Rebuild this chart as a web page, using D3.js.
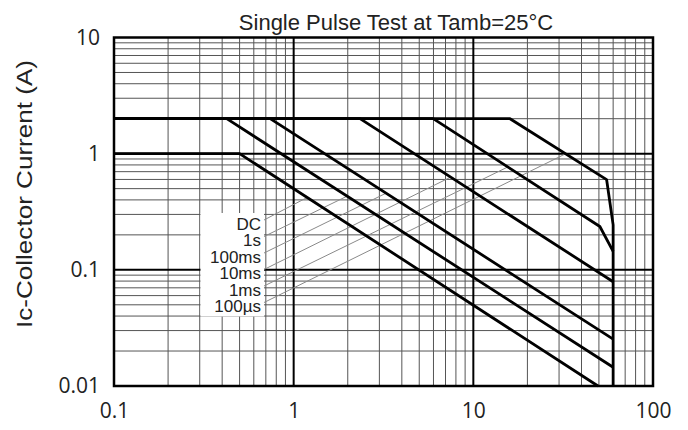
<!DOCTYPE html>
<html>
<head>
<meta charset="utf-8">
<script src="https://cdn.jsdelivr.net/npm/d3@7"></script>
<style>
  body { margin: 0; background: #fff; }
  svg { display: block; }
</style>
</head>
<body>
<svg id="chart"></svg>
<script>
// safe operating area curves, [Vce (V), Ic (A)]
const pulseLabels = ['DC', '1s', '100ms', '10ms', '1ms', '100\u00b5s'];
const curveDC = [[0.1, 1], [0.5, 1], [49.4, 0.01]];
const curve1s = [[0.1, 2], [0.424, 2], [60, 0.0145]];
const curve100ms = [[0.1, 2], [0.74, 2], [60, 0.0253]];
const curve10ms = [[0.1, 2], [2.34, 2], [60, 0.079]];
const curve1ms = [[0.1, 2], [5.98, 2], [50.6, 0.236], [60, 0.144]];
const curve100us = [[0.1, 2], [16, 2], [55.2, 0.597], [60, 0.244], [60, 0.01]];
const curves = [curveDC, curve1s, curve100ms, curve10ms, curve1ms, curve100us];
// where each label's leader line meets its curve
const leaderEnds = [[1.19, 0.42], [1.98, 0.43], [3.25, 0.455], [7.46, 0.627], [15.6, 0.77], [32.3, 0.99]];

const xTicks = [0.1, 1, 10, 100];
const xTickLabels = ['0.1', '1', '10', '100'];
const yTicks = [0.01, 0.1, 1, 10];
const yTickLabels = ['0.01', '0.1', '1', '10'];

const svgWidth = 688;
const svgHeight = 430;
const plot = { left: 114, right: 653, top: 37.5, bottom: 386 };

const svg = d3.select('#chart')
    .attr('width', svgWidth)
    .attr('height', svgHeight);

const x = d3.scaleLog().domain([0.1, 100]).range([plot.left, plot.right]);
const y = d3.scaleLog().domain([0.01, 10]).range([plot.bottom, plot.top]);

const isMajor = v => Math.abs(Math.log10(v) - Math.round(Math.log10(v))) < 1e-9;

// minor grid
const grid = svg.append('g');
grid.selectAll('.vx')
    .data(x.ticks().filter(v => !isMajor(v)))
    .enter().append('line')
    .attr('x1', d => x(d)).attr('x2', d => x(d))
    .attr('y1', plot.top).attr('y2', plot.bottom)
    .attr('stroke', '#555').attr('stroke-width', 1);
grid.selectAll('.hy')
    .data(y.ticks().filter(v => !isMajor(v)))
    .enter().append('line')
    .attr('x1', plot.left).attr('x2', plot.right)
    .attr('y1', d => y(d)).attr('y2', d => y(d))
    .attr('stroke', '#555').attr('stroke-width', 1);

// major grid
grid.selectAll('.vmaj')
    .data(xTicks.slice(1, -1))
    .enter().append('line')
    .attr('x1', d => x(d)).attr('x2', d => x(d))
    .attr('y1', plot.top).attr('y2', plot.bottom)
    .attr('stroke', '#000').attr('stroke-width', 2);
grid.selectAll('.hmaj')
    .data(yTicks.slice(1, -1))
    .enter().append('line')
    .attr('x1', plot.left).attr('x2', plot.right)
    .attr('y1', d => y(d)).attr('y2', d => y(d))
    .attr('stroke', '#000').attr('stroke-width', 2);

// white panel behind the legend labels
const box = { x: 200.5, y: 213, w: 63.5, h: 103.5 };
svg.append('rect')
    .attr('x', box.x).attr('y', box.y)
    .attr('width', box.w).attr('height', box.h)
    .attr('fill', '#fff');

// leader lines
const labelRight = 261;
const labelBase = 229.5;
const labelStep = 16.5;
svg.selectAll('.leader')
    .data(leaderEnds)
    .enter().append('line')
    .attr('x1', labelRight + 3)
    .attr('y1', (d, i) => labelBase + i * labelStep - 9.5)
    .attr('x2', d => x(d[0]))
    .attr('y2', d => y(d[1]))
    .attr('stroke', '#8a8a8a')
    .attr('stroke-width', 1);

svg.selectAll('.plabel')
    .data(pulseLabels)
    .enter().append('text')
    .attr('x', labelRight)
    .attr('y', (d, i) => labelBase + i * labelStep)
    .attr('text-anchor', 'end')
    .attr('font-family', 'Liberation Sans, Arial, sans-serif')
    .attr('font-size', '17px')
    .attr('fill', '#222')
    .text(d => d);

// SOA curves
const line = d3.line().x(d => x(d[0])).y(d => y(d[1]));
svg.selectAll('.curve')
    .data(curves)
    .enter().append('path')
    .attr('d', line)
    .attr('fill', 'none')
    .attr('stroke', '#000')
    .attr('stroke-width', 2.8)
    .attr('stroke-linejoin', 'round');

// frame
svg.append('rect')
    .attr('x', plot.left).attr('y', plot.top)
    .attr('width', plot.right - plot.left)
    .attr('height', plot.bottom - plot.top)
    .attr('fill', 'none')
    .attr('stroke', '#000')
    .attr('stroke-width', 2.5);

// axes
const xAxis = svg.append('g')
    .attr('transform', `translate(0, ${plot.bottom})`)
    .call(d3.axisBottom(x).tickValues(xTicks).tickSize(0).tickPadding(10)
        .tickFormat((d, i) => xTickLabels[i]));
const yAxis = svg.append('g')
    .attr('transform', `translate(${plot.left}, 0)`)
    .call(d3.axisLeft(y).tickValues(yTicks).tickSize(0).tickPadding(14)
        .tickFormat((d, i) => yTickLabels[i]));
[xAxis, yAxis].forEach(a => {
    a.select('.domain').remove();
    a.selectAll('text')
        .attr('font-family', 'Open Sans, sans-serif')
        .attr('font-size', '21px')
        .attr('fill', '#222');
});
xAxis.selectAll('text').attr('dy', '1.05em');

svg.append('text')
    .attr('x', 396)
    .attr('y', 30)
    .attr('text-anchor', 'middle')
    .attr('font-family', 'Liberation Sans, Arial, sans-serif')
    .attr('font-size', '22px')
    .attr('fill', '#222')
    .text('Single Pulse Test at Tamb=25\u00b0C');

svg.append('text')
    .attr('transform', 'translate(32, 194) rotate(-90)')
    .attr('text-anchor', 'middle')
    .attr('font-family', 'Liberation Sans, Arial, sans-serif')
    .attr('font-size', '22px')
    .attr('textLength', 268)
    .attr('lengthAdjust', 'spacingAndGlyphs')
    .attr('fill', '#222')
    .text('Ic-Collector Current (A)');
</script>
</body>
</html>
